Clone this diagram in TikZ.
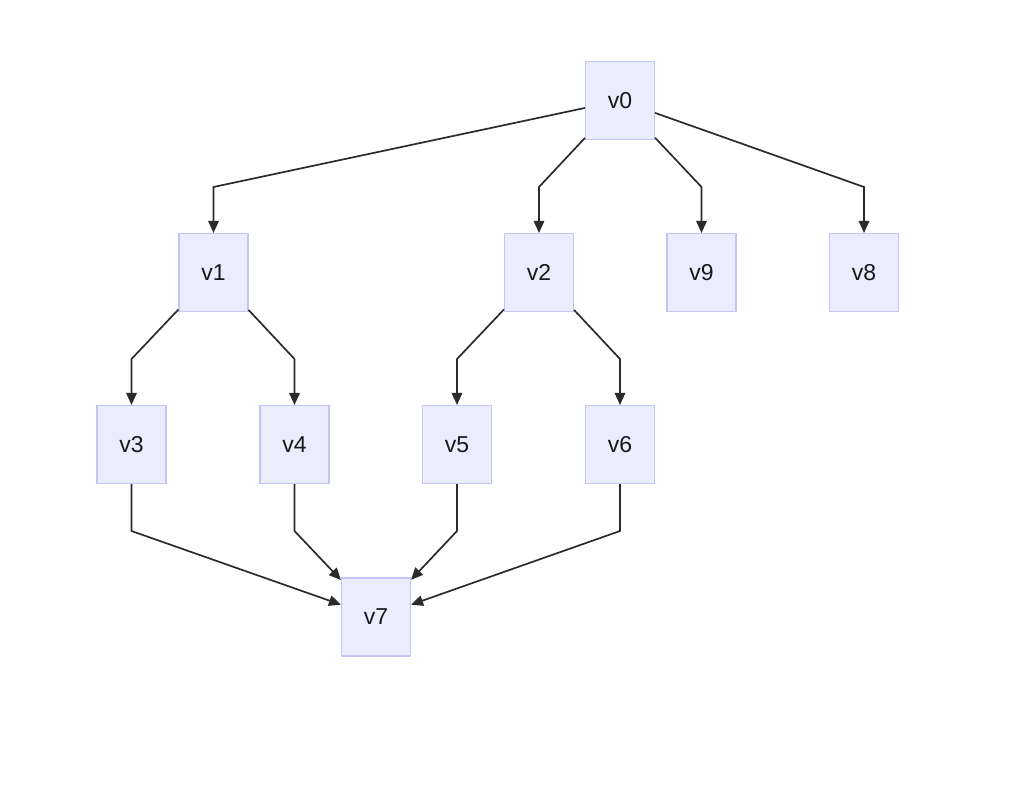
\documentclass[tikz,border=0pt]{standalone}
\usepackage{fontspec}
\setmainfont{Liberation Sans}
\usetikzlibrary{arrows.meta}
\definecolor{boxfill}{HTML}{ECECFF}
\definecolor{boxline}{RGB}{196,196,246}
\definecolor{edgecol}{HTML}{2B2B2B}
\tikzset{
  vbox/.style={draw=boxline, fill=boxfill, line width=1.5pt, minimum width=68.6pt, minimum height=77.6pt, inner sep=0pt, font=\fontsize{23}{27}\selectfont, text=black!90},
  edge/.style={draw=edgecol, line width=1.7pt, -{Triangle[length=12pt,width=10.5pt]}}
}
\begin{document}
\begin{tikzpicture}[x=1pt,y=-1pt]
\useasboundingbox (0,0) rectangle (1030,798);
\node[vbox] (v0) at (620,100.5) {v0};
\node[vbox] (v1) at (213.5,272.5) {v1};
\node[vbox] (v2) at (539,272.5) {v2};
\node[vbox] (v9) at (701.5,272.5) {v9};
\node[vbox] (v8) at (864,272.5) {v8};
\node[vbox] (v3) at (131.5,444.5) {v3};
\node[vbox] (v4) at (294.5,444.5) {v4};
\node[vbox] (v5) at (457,444.5) {v5};
\node[vbox] (v6) at (620,444.5) {v6};
\node[vbox] (v7) at (376,617) {v7};
\coordinate (b01) at (213.5,187);
\coordinate (b02) at (539,187);
\coordinate (b09) at (701.5,187);
\coordinate (b08) at (864,187);
\coordinate (b13) at (131.5,359);
\coordinate (b14) at (294.5,359);
\coordinate (b25) at (457,359);
\coordinate (b26) at (620,359);
\coordinate (b37) at (131.5,531);
\coordinate (b47) at (294.5,531);
\coordinate (b57) at (457,531);
\coordinate (b67) at (620,531);
\draw[edge] (v0) -- (b01) -- (v1);
\draw[edge] (v0) -- (b02) -- (v2);
\draw[edge] (v0) -- (b09) -- (v9);
\draw[edge] (v0) -- (b08) -- (v8);
\draw[edge] (v1) -- (b13) -- (v3);
\draw[edge] (v1) -- (b14) -- (v4);
\draw[edge] (v2) -- (b25) -- (v5);
\draw[edge] (v2) -- (b26) -- (v6);
\draw[edge] (v3) -- (b37) -- (v7);
\draw[edge] (v4) -- (b47) -- (v7);
\draw[edge] (v5) -- (b57) -- (v7);
\draw[edge] (v6) -- (b67) -- (v7);
\end{tikzpicture}
\end{document}
